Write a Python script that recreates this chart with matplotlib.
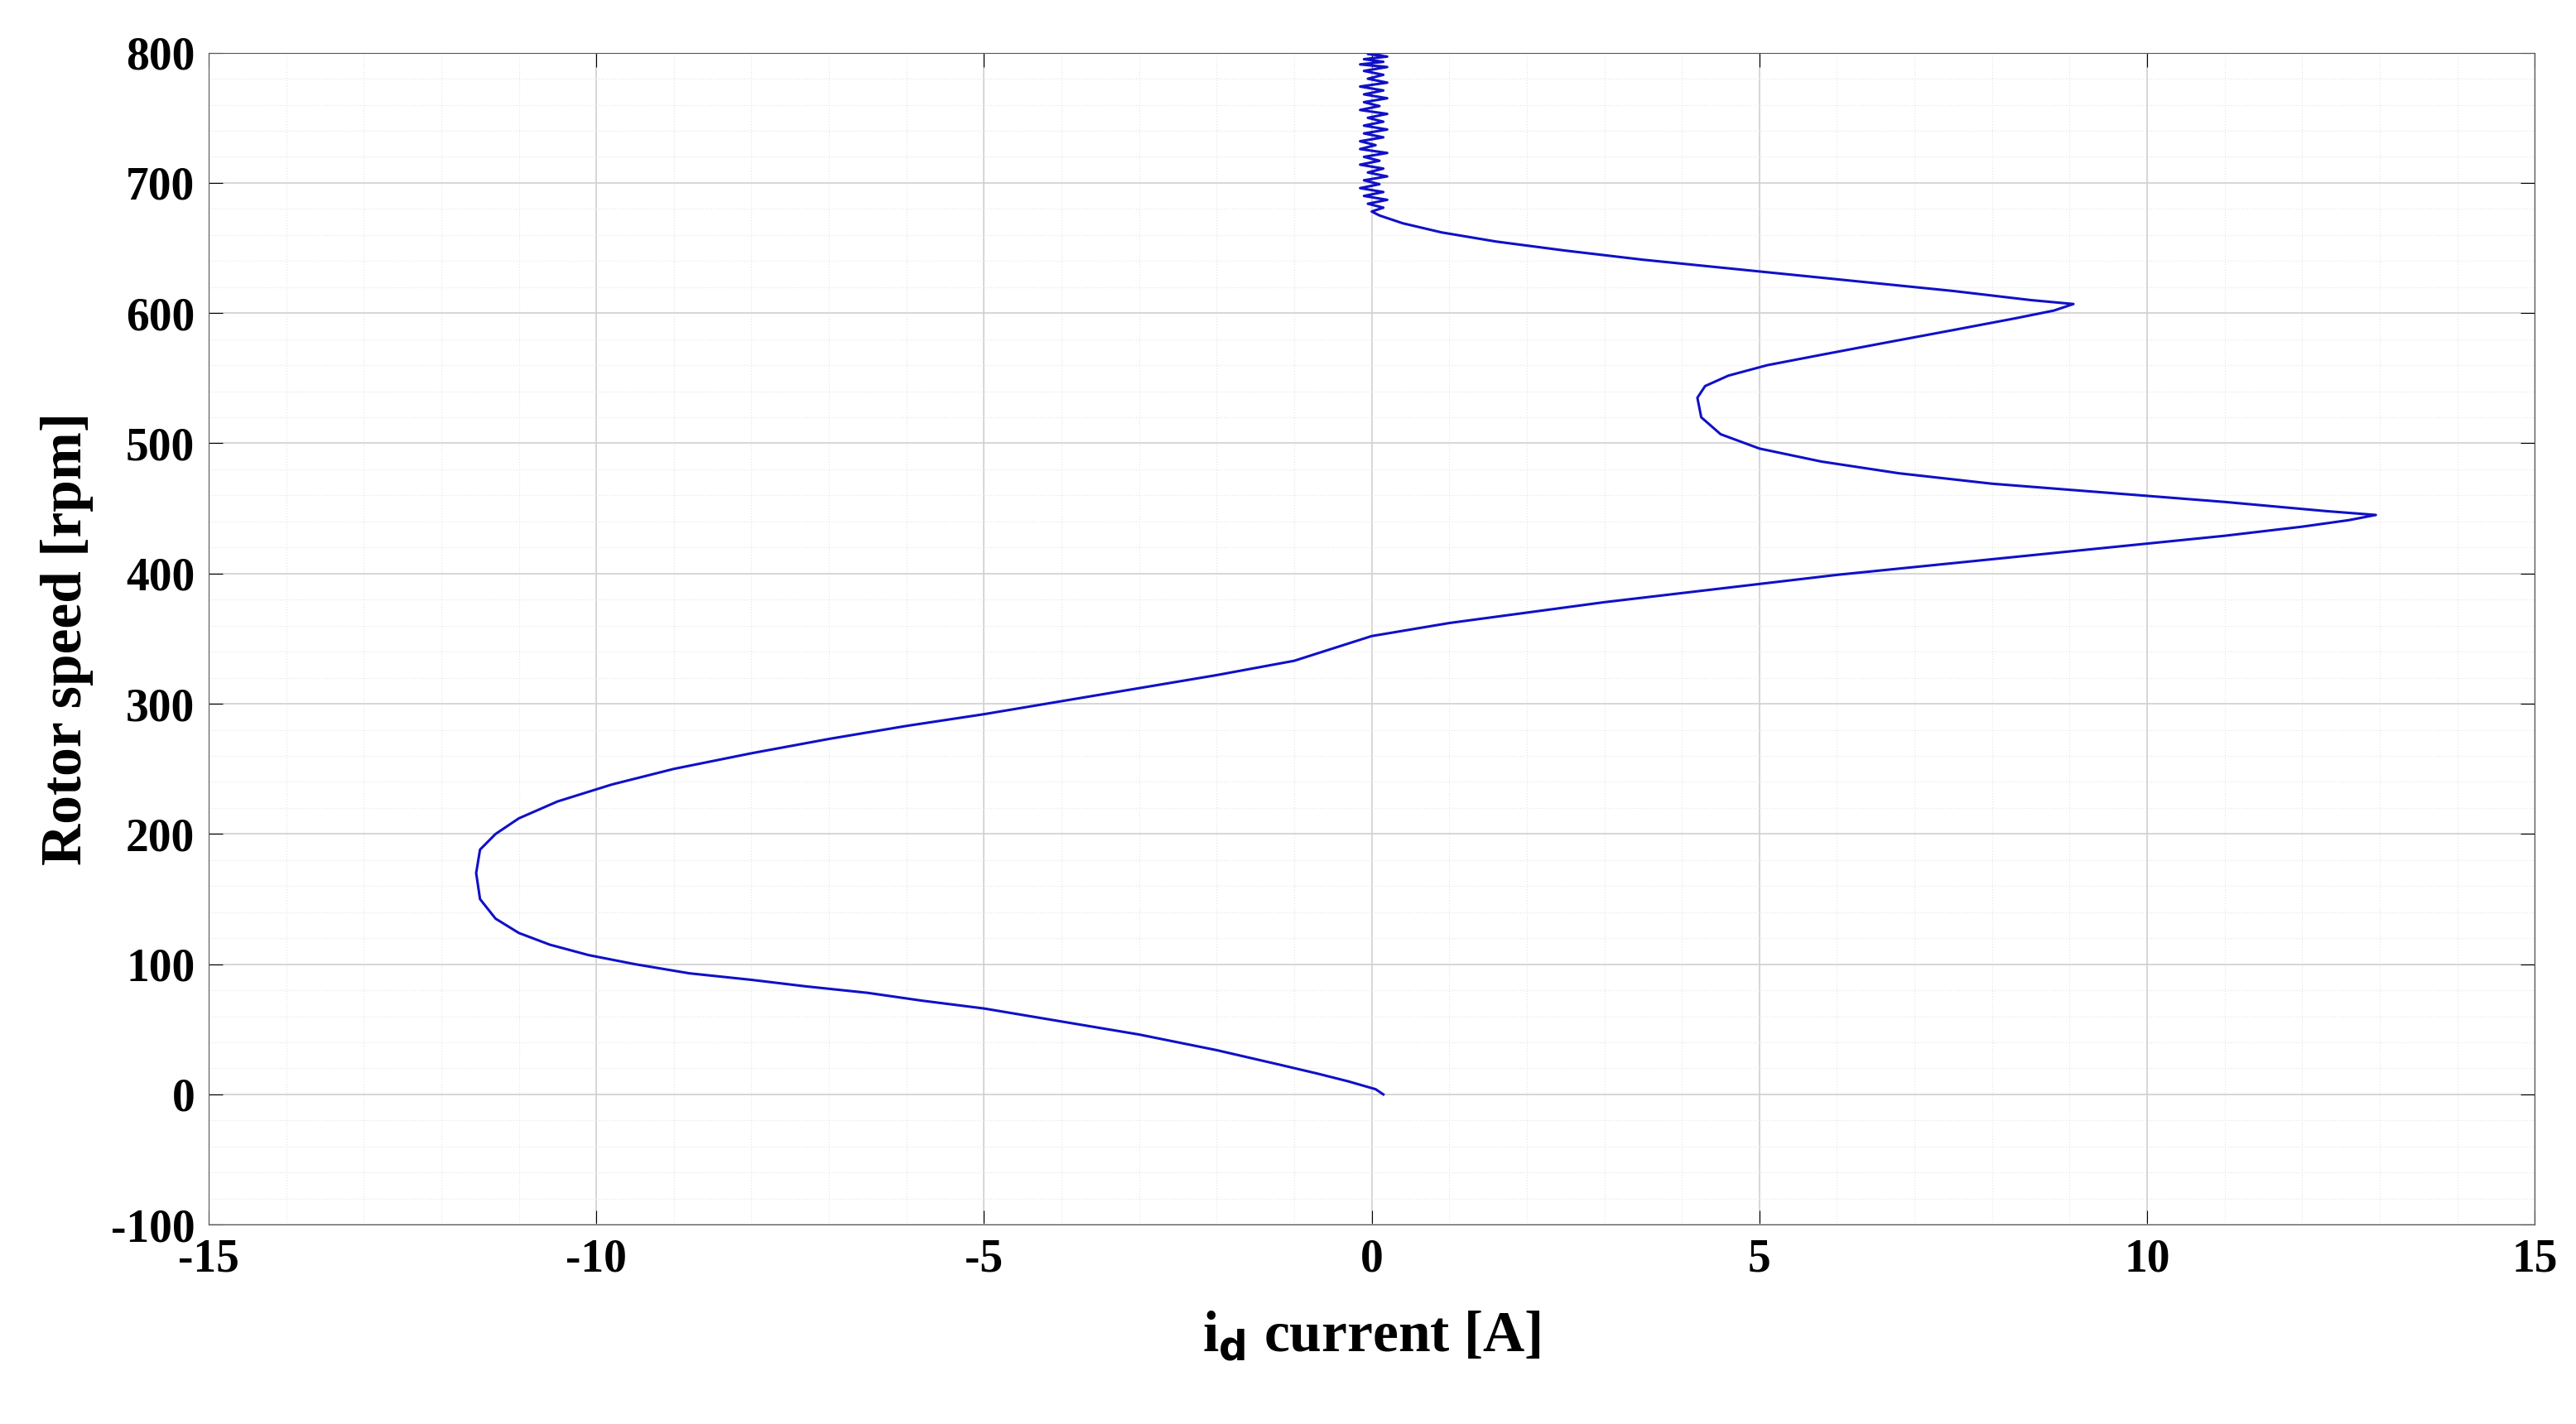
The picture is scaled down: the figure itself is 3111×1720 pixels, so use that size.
import matplotlib.pyplot as plt
from matplotlib.ticker import MultipleLocator

plt.rcParams['font.family'] = ['Liberation Serif', 'DejaVu Serif']
plt.rcParams['axes.unicode_minus'] = False

# id current [A] vs rotor speed [rpm]
id_curve = [0.15, 0.05, -0.3, -0.7, -1.2, -2.0, -3.0, -4.0, -5.0, -5.8, -6.5, -7.3,
            -8.0, -8.8, -9.5, -10.1, -10.6, -11.0, -11.3, -11.5, -11.55, -11.5,
            -11.3, -11.0, -10.5, -9.8, -9.0, -8.0, -7.0, -6.0, -5.0, -4.0, -3.0,
            -2.0, -1.0, 0.0, 1.0, 2.0, 3.0, 4.0, 5.0, 6.0, 7.0, 8.0, 9.0, 10.0,
            11.0, 12.0, 12.6, 12.95, 12.3, 11.0, 9.5, 8.0, 6.8, 5.8, 5.0, 4.5,
            4.25, 4.2, 4.3, 4.6, 5.1, 5.8, 6.6, 7.5, 8.3, 8.8, 9.05, 8.5, 7.5,
            6.5, 5.5, 4.5, 3.5, 2.5, 1.6, 0.9, 0.4, 0.1, 0.0]
speed_curve = [0, 4, 10, 16, 23, 34, 46, 56, 66, 72, 78, 83,
               88, 93, 100, 107, 115, 124, 135, 150, 170, 188,
               200, 212, 225, 238, 250, 262, 273, 283, 292, 302, 312,
               322, 333, 352, 362, 370, 378, 385, 392, 399, 405, 411, 417, 423,
               429, 436, 441, 445, 448, 455, 462, 469, 477, 486, 496, 507,
               520, 535, 544, 552, 560, 568, 577, 587, 596, 602, 607, 610, 617,
               623, 629, 635, 641, 648, 655, 662, 669, 675, 678]

# noisy part near zero at high speed
id_noise = [0.0, 0.15, -0.05, 0.2, -0.1, 0.15, -0.15, 0.1, -0.1, 0.2, -0.05, 0.15,
            -0.15, 0.1, -0.1, 0.2, -0.15, 0.05, -0.15, 0.15, -0.1, 0.2, -0.1,
            0.15, -0.05, 0.2, -0.15, 0.1, -0.1, 0.2, -0.1, 0.15, -0.15, 0.2,
            -0.05, 0.15, -0.1, 0.2, -0.15, 0.15, -0.1, 0.2, -0.05, 0.15]
speed_noise = [678, 681, 684, 687, 690, 693, 696, 699, 702, 705, 708, 711,
               714, 717, 720, 723, 726, 729, 732, 735, 738, 741, 744,
               747, 750, 753, 756, 759, 762, 765, 768, 771, 774, 777,
               780, 783, 786, 789, 791, 793, 795, 797, 799, 800]

fig = plt.figure(figsize=(31.11, 17.20), dpi=100)
ax = fig.add_axes([0.081, 0.14, 0.903, 0.823])

ax.plot(id_curve + id_noise[1:], speed_curve + speed_noise[1:], color='#1010c8', lw=2.2)

ax.set_xlim(-15, 15)
ax.set_ylim(-100, 800)
ax.xaxis.set_major_locator(MultipleLocator(5))
ax.yaxis.set_major_locator(MultipleLocator(100))
ax.xaxis.set_minor_locator(MultipleLocator(1))
ax.yaxis.set_minor_locator(MultipleLocator(20))
ax.grid(which='major', color='#d0d0d0', lw=1.2)
ax.grid(which='minor', color='#e8e8e8', lw=0.9, ls=':')
ax.tick_params(which='both', direction='in', top=True, right=True)
ax.tick_params(which='major', labelsize=40, length=12, pad=12)
ax.tick_params(which='minor', length=0)
for lab in ax.get_xticklabels() + ax.get_yticklabels():
    lab.set_fontweight('bold')
for s in ax.spines.values():
    s.set_color('#555555')

ax.set_xlabel('i$_\\mathbf{d}$ current [A]', fontsize=50, fontweight='bold', labelpad=25)
ax.set_ylabel('Rotor speed [rpm]', fontsize=50, fontweight='bold', labelpad=15)

fig.savefig('out.png', dpi=100)
